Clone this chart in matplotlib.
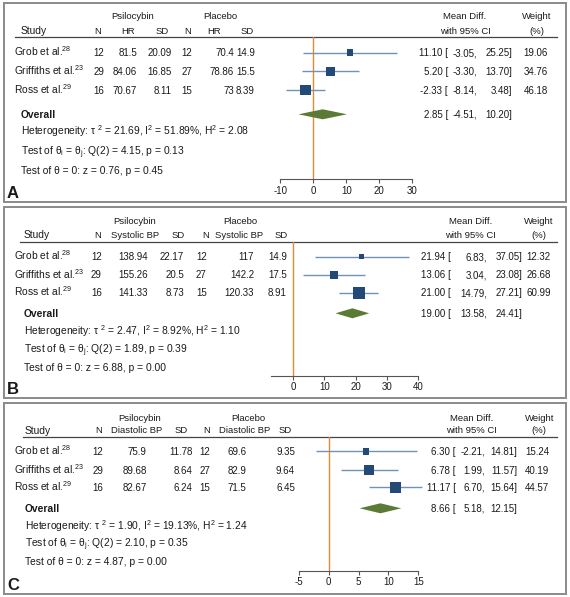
import matplotlib
matplotlib.use("Agg")
import matplotlib.pyplot as plt
from matplotlib.patches import Rectangle

plt.rcParams["font.family"] = ["Liberation Sans", "DejaVu Sans"]
plt.rcParams["mathtext.fontset"] = "custom"
plt.rcParams["mathtext.rm"] = "Liberation Sans"
plt.rcParams["mathtext.it"] = "Liberation Sans:italic"
plt.rcParams["mathtext.bf"] = "Liberation Sans:bold"
plt.rcParams["axes.unicode_minus"] = False

W, H = 570, 597
FS = 7.0      # table rows
FS_HEAD = 6.8
FS_STAT = 7.4
TXT = "#1a1a1a"

# ---- data ----
studies = ["Grob et al.", "Griffiths et al.", "Ross et al."]
refs = ["28", "23", "29"]
n_psi = [12, 29, 16]
n_pla = [12, 27, 15]

# A: heart rate
hr_psi = [81.5, 84.06, 70.67]
hr_psi_sd = [20.09, 16.85, 8.11]
hr_pla = [70.4, 78.86, 73]
hr_pla_sd = [14.9, 15.5, 8.39]
hr_md = [11.10, 5.20, -2.33]
hr_lo = [-3.05, -3.30, -8.14]
hr_hi = [25.25, 13.70, 3.48]
hr_w = [19.06, 34.76, 46.18]
hr_overall = [2.85, -4.51, 10.20]
hr_het = ["21.69", "51.89", "2.08", "4.15", "0.13", "0.76", "0.45"]

# B: systolic BP
sbp_psi = [138.94, 155.26, 141.33]
sbp_psi_sd = [22.17, 20.5, 8.73]
sbp_pla = [117, 142.2, 120.33]
sbp_pla_sd = [14.9, 17.5, 8.91]
sbp_md = [21.94, 13.06, 21.00]
sbp_lo = [6.83, 3.04, 14.79]
sbp_hi = [37.05, 23.08, 27.21]
sbp_w = [12.32, 26.68, 60.99]
sbp_overall = [19.00, 13.58, 24.41]
sbp_het = ["2.47", "8.92", "1.10", "1.89", "0.39", "6.88", "0.00"]

# C: diastolic BP
dbp_psi = [75.9, 89.68, 82.67]
dbp_psi_sd = [11.78, 8.64, 6.24]
dbp_pla = [69.6, 82.9, 71.5]
dbp_pla_sd = [9.35, 9.64, 6.45]
dbp_md = [6.30, 6.78, 11.17]
dbp_lo = [-2.21, 1.99, 6.70]
dbp_hi = [14.81, 11.57, 15.64]
dbp_w = [15.24, 40.19, 44.57]
dbp_overall = [8.66, 5.18, 12.15]
dbp_het = ["1.90", "19.13", "1.24", "2.10", "0.35", "4.87", "0.00"]

ticks_a = [-10, 0, 10, 20, 30]
ticks_b = [0, 10, 20, 30, 40]
ticks_c = [-5, 0, 5, 10, 15]

# ---- layout (pixels from top-left) ----
panels = [
    dict(letter="A", label="HR", box=(4, 3, 565.7, 202.3),
         gy=16, hy=30.5, rule=37.3, rule_x=15,
         grp_x=[133, 220, 465, 537],
         head_x=[20.7, 98, 128, 162, 188, 214, 247],
         rows=[52.7, 71.3, 90], ov=114.3, stats=[131.7, 151.7, 170], let_y=192.7,
         val_x=[104, 137, 172, 192, 234, 255], ci_x=[448, 477, 512.5, 548],
         zero=313.3, scale=3.3, axis_y=179.3, bounds=(-10, 30), ticks=ticks_a,
         cols=[n_psi, hr_psi, hr_psi_sd, n_pla, hr_pla, hr_pla_sd],
         md=hr_md, lo=hr_lo, hi=hr_hi, w=hr_w, ov_val=hr_overall, het=hr_het),
    dict(letter="B", label="Systolic BP", box=(4, 207.3, 565.7, 398.3),
         gy=220.5, hy=234.3, rule=241.7, rule_x=20,
         grp_x=[135, 240, 470.7, 539],
         head_x=[24, 98, 135, 178, 206, 239, 281],
         rows=[256.7, 275, 292.7], ov=313.3, stats=[331.7, 349.3, 367.3], let_y=387.7,
         val_x=[101.7, 148, 184, 206.7, 254, 287], ci_x=[450.7, 486.7, 522.3, 550.7],
         zero=293.3, scale=3.11, axis_y=375.7, bounds=(-7.3, 40), ticks=ticks_b,
         cols=[n_psi, sbp_psi, sbp_psi_sd, n_pla, sbp_pla, sbp_pla_sd],
         md=sbp_md, lo=sbp_lo, hi=sbp_hi, w=sbp_w, ov_val=sbp_overall, het=sbp_het),
    dict(letter="C", label="Diastolic BP", box=(4, 403.3, 565.7, 594),
         gy=417.7, hy=430, rule=437.3, rule_x=23,
         grp_x=[140, 248, 471.7, 539.3],
         head_x=[25, 99, 136.7, 181, 206.7, 244.3, 285],
         rows=[451.5, 470, 487.5], ov=508.3, stats=[526.7, 543.3, 561], let_y=584.3,
         val_x=[103.3, 146.7, 192.3, 210, 246.7, 295], ci_x=[455.7, 485, 517.3, 549.3],
         zero=328.7, scale=5.97, axis_y=570.7, bounds=(-5, 15), ticks=ticks_c,
         cols=[n_psi, dbp_psi, dbp_psi_sd, n_pla, dbp_pla, dbp_pla_sd],
         md=dbp_md, lo=dbp_lo, hi=dbp_hi, w=dbp_w, ov_val=dbp_overall, het=dbp_het),
]

fig = plt.figure(figsize=(W / 100, H / 100), dpi=100)
canvas = fig.add_axes([0, 0, 1, 1])
canvas.set_xlim(0, W)
canvas.set_ylim(H, 0)
canvas.axis("off")


def txt(x, y, s, ha="left", fs=FS, **kw):
    # y is the visual centre of the text line
    canvas.text(x, y + 0.5 * fs, s, ha=ha, va="baseline", fontsize=fs, color=TXT, **kw)


for p in panels:
    l, t, r, b = p["box"]
    canvas.add_patch(Rectangle((l, t), r - l, b - t, fill=False,
                               edgecolor="#8a8a8a", lw=1.4))
    # headers
    txt(p["grp_x"][0], p["gy"], "Psilocybin", ha="center", fs=FS_HEAD)
    txt(p["grp_x"][1], p["gy"], "Placebo", ha="center", fs=FS_HEAD)
    txt(p["grp_x"][2], p["gy"], "Mean Diff.", ha="center", fs=FS_HEAD)
    txt(p["grp_x"][3], p["gy"], "Weight", ha="center", fs=FS_HEAD)
    heads = ["Study", "N", p["label"], "SD", "N", p["label"], "SD"]
    for i, (hx, h) in enumerate(zip(p["head_x"], heads)):
        if i == 0:
            txt(hx, p["hy"], h, fs=FS_STAT)
        else:
            txt(hx, p["hy"], h, ha="center", fs=FS_HEAD)
    txt(p["grp_x"][2], p["hy"], "with 95% CI", ha="center", fs=FS_HEAD)
    txt(p["grp_x"][3], p["hy"], "(%)", ha="center", fs=FS_HEAD)
    canvas.plot([p["rule_x"], 557], [p["rule"], p["rule"]], color="#444444", lw=0.9)

    # study rows
    for i, y in enumerate(p["rows"]):
        txt(13.5, y, studies[i] + r"$^{\mathrm{" + refs[i] + "}}$", fs=FS_STAT)
        for col, vx in zip(p["cols"], p["val_x"]):
            txt(vx, y, "%g" % col[i], ha="right")
        txt(p["ci_x"][0], y, "%.2f [" % p["md"][i], ha="right")
        txt(p["ci_x"][1], y, "%.2f," % p["lo"][i], ha="right")
        txt(p["ci_x"][2], y, "%.2f]" % p["hi"][i], ha="right")
        txt(p["ci_x"][3], y, "%.2f" % p["w"][i], ha="right")

    est, olo, ohi = p["ov_val"]
    txt(p["head_x"][0], p["ov"], "Overall", weight="bold", fs=FS_STAT)
    txt(p["ci_x"][0], p["ov"], "%.2f [" % est, ha="right")
    txt(p["ci_x"][1], p["ov"], "%.2f," % olo, ha="right")
    txt(p["ci_x"][2], p["ov"], "%.2f]" % ohi, ha="right")

    h = p["het"]
    sx = p["head_x"][0]
    txt(sx, p["stats"][0], "Heterogeneity: τ $^{\\mathrm{2}}$ = %s, I$^{\\mathrm{2}}$ = %s%%, "
        "H$^{\\mathrm{2}}$ = %s" % (h[0], h[1], h[2]), fs=FS_STAT)
    txt(sx, p["stats"][1], "Test of θ$_{\\mathrm{i}}$ = θ$_{\\mathrm{j}}$: Q(2) = %s, p = %s"
        % (h[3], h[4]), fs=FS_STAT)
    txt(sx, p["stats"][2], "Test of θ = 0: z = %s, p = %s" % (h[5], h[6]), fs=FS_STAT)
    canvas.text(7, p["let_y"] + 5.8, p["letter"], fontsize=12, weight="bold",
                color=TXT, va="baseline")

    # forest plot axes
    L, R = 250, 440
    ax = fig.add_axes([L / W, 1 - p["axis_y"] / H, (R - L) / W,
                       (p["axis_y"] - p["rule"]) / H])
    ax.patch.set_visible(False)
    ax.set_xlim((L - p["zero"]) / p["scale"], (R - p["zero"]) / p["scale"])
    ax.set_ylim(p["axis_y"], p["rule"])
    for s in ["top", "left", "right"]:
        ax.spines[s].set_visible(False)
    ax.spines["bottom"].set_bounds(*p["bounds"])
    ax.spines["bottom"].set_color("#555555")
    ax.spines["bottom"].set_linewidth(0.8)
    ax.set_yticks([])
    ax.set_xticks(p["ticks"])
    ax.tick_params(axis="x", length=2.6, width=0.8, color="#555555",
                   labelsize=7.0, labelcolor=TXT, pad=2.0)
    ax.axvline(0, color="#e58a32", lw=1.0, zorder=1)
    ax.hlines(p["rows"], p["lo"], p["hi"], color="#6f93b6", lw=1.0, zorder=2,
              clip_on=False)
    sides = [(1.55 * wi ** 0.5 * 0.72) ** 2 for wi in p["w"]]
    ax.scatter(p["md"], p["rows"], s=sides, marker="s", color="#234a76",
               zorder=3, linewidths=0, clip_on=False)
    oy = p["ov"]
    ax.fill([olo, est, ohi, est], [oy, oy - 5, oy, oy + 5], color="#5b7b34",
            zorder=3, lw=0)

fig.savefig("out.png", dpi=100)
